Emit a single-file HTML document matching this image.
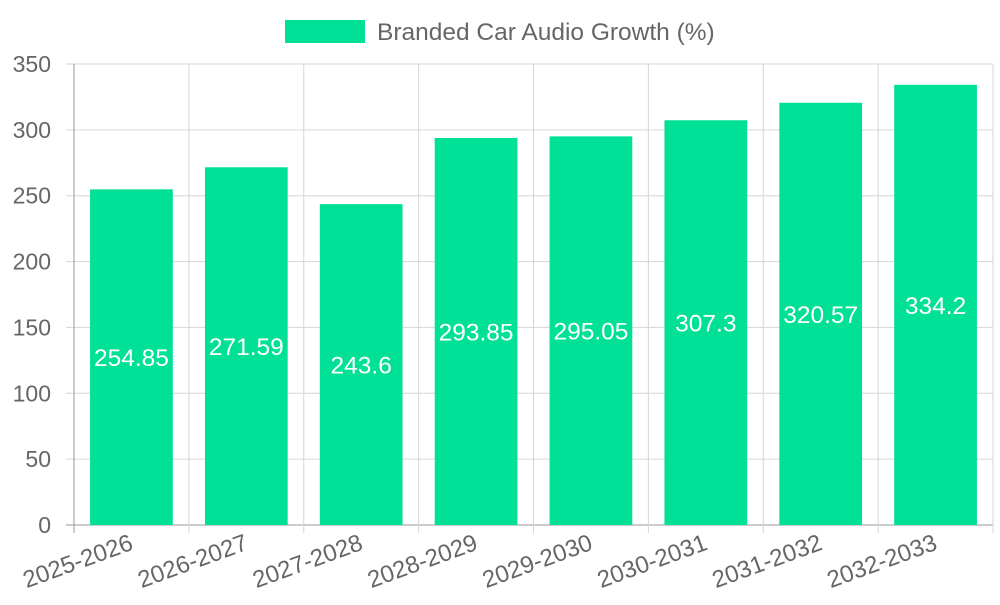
<!DOCTYPE html>
<html><head><meta charset="utf-8"><style>
body{margin:0;background:#fff;}
svg text{font-family:"Liberation Sans",sans-serif;}
</style></head><body>
<svg id="c" width="1000" height="600" xmlns="http://www.w3.org/2000/svg"></svg>
<script>
const categories=["2025-2026","2026-2027","2027-2028","2028-2029","2029-2030","2030-2031","2031-2032","2032-2033"];
const values=[254.85,271.59,243.6,293.85,295.05,307.3,320.57,334.2];
const valueLabels=["254.85","271.59","243.6","293.85","295.05","307.3","320.57","334.2"];
const yTicks=[0,50,100,150,200,250,300,350];
const NS="http://www.w3.org/2000/svg";
const svg=document.getElementById('c');
const L=74,R=993,T=64,B=525,yMax=350;
const bw=(R-L)/categories.length;
const y=v=>B-(v/yMax)*(B-T);
const x=i=>L+i*bw;
function mk(t,a,txt){const e=document.createElementNS(NS,t);for(const k in a)e.setAttribute(k,a[k]);if(txt!==undefined)e.textContent=txt;svg.appendChild(e);return e;}
yTicks.forEach(v=>{
 const g=mk('line',{x1:L-8,x2:R,y1:y(v),y2:y(v),stroke:v===0?'#999':'#d6d6d6','stroke-width':1});
 
 
 const t=mk('text',{x:L-23,y:y(v)+8,'text-anchor':'end','font-size':23,fill:'#666'},String(v));
 
 
});
for(let i=0;i<=categories.length;i++){
 const g=mk('line',{x1:x(i),x2:x(i),y1:T,y2:B+8,stroke:i===0?'#999':'#d6d6d6','stroke-width':1});
 
 
}
categories.forEach((c,i)=>{
 const cx=x(i)+bw/2, w=bw*0.72;
 const r=mk('rect',{x:cx-w/2,y:y(values[i]),width:w,height:B-y(values[i]),fill:'#00E096'});
 
 
 const vl=mk('text',{x:cx,y:(y(values[i])+B)/2+9,'text-anchor':'middle','font-size':24.5,fill:'#fff'},valueLabels[i]);
 
 
 const xl=mk('text',{x:cx+3,y:B+24,'text-anchor':'end','font-size':24,fill:'#666',transform:`rotate(-20 ${cx+3} ${B+24})`},c);
 
 
});
const lb=mk('rect',{x:285,y:20,width:80,height:23,fill:'#00E096'});


const lt=mk('text',{x:377,y:40,'font-size':24.5,fill:'#666'},'Branded Car Audio Growth (%)');


</script>
</body></html>
